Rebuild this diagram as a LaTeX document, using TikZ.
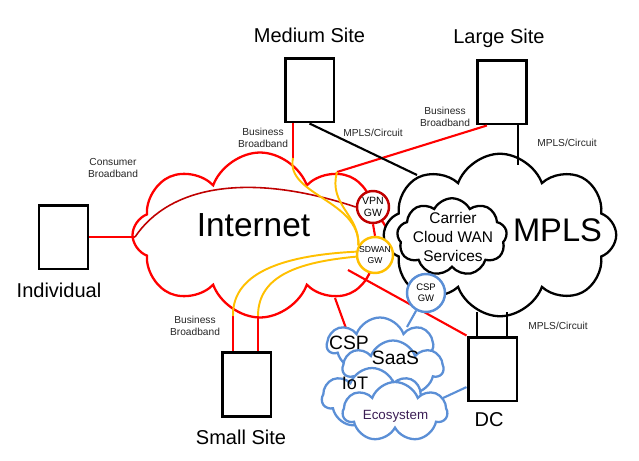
\documentclass[tikz,border=0pt]{standalone}
\usepackage{fontspec}
\setmainfont{Liberation Sans}
\usetikzlibrary{shapes.symbols,calc}

\definecolor{gwred}{RGB}{192,0,0}
\definecolor{gwgold}{RGB}{255,192,0}
\definecolor{cspblue}{RGB}{91,143,214}
\definecolor{ecotext}{RGB}{60,30,85}

\begin{document}
\begin{tikzpicture}[x=0.02cm, y=-0.02cm,
  site/.style={draw, line width=1.7pt, minimum width=0.98cm, minimum height=1.28cm, inner sep=0pt},
  sitename/.style={font=\fontsize{11.4}{13}\selectfont},
  linklabel/.style={font=\fontsize{5.8}{6.8}\selectfont, align=center, text=black!85},
  puff/.style={cloud, cloud puffs=8, cloud puff arc=140, cloud ignores aspect, fill=white, line width=1.3pt, inner sep=0pt},
  smallpuff/.style={puff, cloud puffs=7, draw=cspblue},
  gw/.style={circle, draw, fill=white, line width=1.4pt, inner sep=0pt, align=center},
  inet/.style={red, line width=1.2pt},
  sdwan/.style={gwgold, line width=1.1pt},
  mplsline/.style={black, line width=1.2pt}]
  \useasboundingbox (0,0) rectangle (639,460);

  % --- 拠点 ---
  \node[site] (med) at (309.5,90) {};
  \node[site] (lrg) at (502,92) {};
  \node[site] (indiv) at (63.5,237) {};
  \node[site] (small) at (246.5,384.5) {};
  \node[site] (dc) at (492.5,369) {};
  \node[sitename] (medname) at (309.5,35) {Medium Site};
  \node[sitename] (lrgname) at (499,38) {Large Site};
  \node[sitename] (indivname) at (59,290) {Individual};
  \node[sitename] (smallname) at (241,437) {Small Site};
  \node[sitename] (dcname) at (489,420) {DC};

  % --- クラウド ---
  \node[puff, draw=red, minimum width=5.1cm, minimum height=3.3cm] (inetcloud) at (260,235) {};
  \node[puff, draw=black, minimum width=4.65cm, minimum height=3.25cm] (mplscloud) at (500,235) {};
  \node[puff, cloud puffs=9, cloud puff arc=125, draw=black, minimum width=2.2cm, minimum height=1.55cm] (carrier) at (452,237) {};
  \node[font=\fontsize{19}{22}\selectfont] (inettext) at (253.5,225) {Internet};
  \node[font=\fontsize{18.6}{22}\selectfont] (mplstext) at (557.5,230) {MPLS};
  \node[font=\fontsize{8.8}{10.8}\selectfont, align=center] (carriertext) at (453,237) {Carrier\\Cloud WAN\\Services};

  % --- 接続点 ---
  \coordinate (inetW) at (135,237);
  \coordinate (medBB) at (293,158);
  \coordinate (lrgBB) at (337,172);
  \coordinate (smallL) at (233,316);
  \coordinate (smallR) at (258,316);
  \coordinate (inetS) at (335,298);
  \coordinate (inetSE) at (348,270);
  \coordinate (mplsNW) at (417,175);
  \coordinate (mplsN) at (518,165);
  \coordinate (mplsSL) at (477,312);
  \coordinate (mplsSR) at (507,312);
  \coordinate (cspN) at (347,331);
  \coordinate (cspNE) at (407,327);
  \coordinate (ecoE) at (443,398);

  % --- ゲートウェイ ---
  \node[gw, draw=gwred, minimum size=0.64cm, font=\fontsize{6}{7}\selectfont] (vpn) at (373,207) {VPN\\GW};
  \node[gw, draw=gwgold, minimum size=0.72cm, font=\fontsize{4.9}{6}\selectfont] (sdwangw) at (375,255) {SDWAN\\GW};
  \draw[inet] (vpn.south) -- (sdwangw.north);

  % --- 回線 ---
  \draw[inet] (indiv.east |- inetW) -- (inetW);
  \draw[inet] (medBB |- med.south) -- (medBB);
  \draw[inet] ($(lrg.south west)!0.21!(lrg.south east)$) -- (lrgBB);
  \draw[inet] (smallL |- small.north) -- (smallL);
  \draw[inet] (smallR |- small.north) -- (smallR);
  \draw[inet] (inetS) -- (cspN);
  \draw[inet] (inetSE) -- (dc.north west);
  \draw[mplsline] (med.south) -- (mplsNW);
  \draw[mplsline] (mplsN |- lrg.south) -- (mplsN);
  \draw[mplsline] (mplsSL |- dc.north) -- (mplsSL);
  \draw[mplsline] (mplsSR |- dc.north) -- (mplsSR);

  % --- VPN と SDWAN のトンネル ---
  \draw[gwred, line width=0.9pt] (inetW) .. controls (170,185) and (250,172) .. (vpn.west);
  \draw[sdwan] (medBB) .. controls (285,195) and (360,200) .. (sdwangw.150);
  \draw[sdwan] (lrgBB) .. controls (328,205) and (360,215) .. (sdwangw.150);
  \draw[sdwan] (sdwangw.170) .. controls (290,255) and (232,270) .. (smallL);
  \draw[sdwan] (sdwangw.185) .. controls (300,262) and (258,275) .. (smallR);

  % --- CSP / エコシステム ---
  \node[gw, draw=cspblue, minimum size=0.76cm, font=\fontsize{5.4}{6.5}\selectfont] (cspgw) at (426,293) {CSP\\GW};
  \draw[cspblue, line width=1.2pt] (cspgw) -- (cspNE);
  \draw[cspblue, line width=1.2pt] (ecoE) -- ($(dc.south west)!0.23!(dc.north west)$);
  \node[smallpuff, minimum width=2.1cm, minimum height=1.1cm] (csp) at (380,345) {};
  \node[smallpuff, minimum width=2.0cm, minimum height=1.1cm] (saas) at (393,368) {};
  \node[smallpuff, minimum width=2.0cm, minimum height=1.2cm] (iot) at (372,398) {};
  \node[smallpuff, minimum width=2.08cm, minimum height=1.2cm] (eco) at (395,412) {};
  \node[font=\fontsize{11}{13}\selectfont] (csptext) at (349,342.5) {CSP};
  \node[font=\fontsize{11}{13}\selectfont] (saastext) at (395.5,357.5) {SaaS};
  \node[font=\fontsize{10.3}{12}\selectfont] (iottext) at (355,383) {IoT};
  \node[font=\fontsize{7.6}{9}\selectfont, text=ecotext] (ecotext) at (395.5,416) {Ecosystem};

  % --- 回線ラベル ---
  \node[linklabel] (consbb) at (113,168) {Consumer\\Broadband};
  \node[linklabel] (medbb) at (263,138) {Business\\Broadband};
  \node[linklabel] (medmpls) at (373,133) {MPLS/Circuit};
  \node[linklabel] (lrgbb) at (445,117) {Business\\Broadband};
  \node[linklabel] (lrgmpls) at (567,143) {MPLS/Circuit};
  \node[linklabel] (smallbb) at (195,326) {Business\\Broadband};
  \node[linklabel] (dcmpls) at (558,326) {MPLS/Circuit};
\end{tikzpicture}
\end{document}
